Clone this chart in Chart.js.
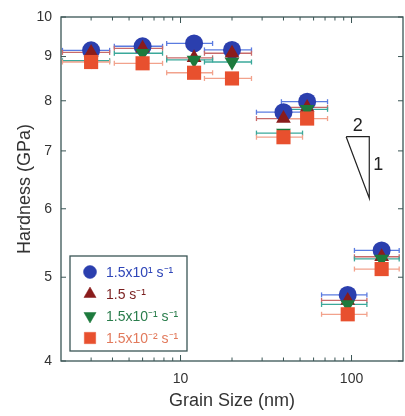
<!DOCTYPE html>
<html><head><meta charset="utf-8">
<script src="https://cdn.jsdelivr.net/npm/chart.js@4"></script>
<style>html,body{margin:0;padding:0;background:#fff;overflow:hidden}</style>
</head><body>
<canvas id="c" width="405" height="416" style="width:405px;height:416px;display:block"></canvas>
<script>
// ---- data ----
const grainSize = [3, 6, 12, 20, 40, 55, 95, 150];
const grainErrLow  = [2.04, 4.1, 8.3, 13.8, 27.8, 38.9, 66.8, 104];
const grainErrHigh = [3.85, 7.85, 15.4, 26.0, 51.7, 72.4, 123, 190];
const rateLabels = ['1.5x10\u00B9 s\u207B\u00B9', '1.5 s\u207B\u00B9', '1.5x10\u207B\u00B9 s\u207B\u00B9', '1.5x10\u207B\u00B2 s\u207B\u00B9'];
const hardnessRate1 = [9.15, 9.25, 9.32, 9.16, 7.76, 7.98, 4.77, 5.37];
const hardnessRate2 = [9.10, 9.20, 8.97, 9.08, 7.63, 7.86, 4.70, 5.28];
const hardnessRate3 = [8.90, 9.08, 8.92, 8.87, 7.34, 7.82, 4.65, 5.25];
const hardnessRate4 = [8.87, 8.84, 8.62, 8.49, 7.26, 7.63, 4.53, 5.11];
const yTickValues = [4, 5, 6, 7, 8, 9, 10];
const xLabelTicks = [10, 100];
const xMinorTicks = [2,3,4,5,6,7,8,9,20,30,40,50,60,70,80,90,200];
const slopeTriX = [93, 127, 127, 93];
const slopeTriY = [7.27, 7.27, 6.17, 7.27];
const slopeLabels = ['2', '1'];

const FONT = '"Liberation Sans", Arial, Helvetica, sans-serif';
const styles = [
  {color:'#2b3fae', err:'#5a7be0', text:'#2f46b8', style:'circle', r:9, rot:0, order:3},
  {color:'#8a1c1c', err:'#c86a6a', text:'#7a1f1f', style:'triangle', r:8.5, rot:0, order:2},
  {color:'#1d7a3d', err:'#3aa89a', text:'#2a7d4c', style:'triangle', r:8.5, rot:180, order:1},
  {color:'#e8502e', err:'#f2a28c', text:'#e27a5c', style:'rect', r:10, rot:0, order:0}
];
const seriesValues = [hardnessRate1, hardnessRate2, hardnessRate3, hardnessRate4];

const datasets = seriesValues.map((vals, k) => ({
  label: rateLabels[k],
  data: grainSize.map((g, i) => ({x: g, y: vals[i]})),
  showLine: false,
  pointStyle: styles[k].style,
  pointRotation: styles[k].rot,
  pointRadius: styles[k].r,
  pointHoverRadius: styles[k].r,
  backgroundColor: styles[k].color,
  borderColor: styles[k].color,
  borderWidth: 0,
  order: styles[k].order
}));

function line(ctx, x1, y1, x2, y2){ ctx.beginPath(); ctx.moveTo(x1,y1); ctx.lineTo(x2,y2); ctx.stroke(); }

const errorBars = {
  id: 'errorBars',
  beforeDatasetsDraw(chart){
    const {ctx, scales:{x, y}} = chart;
    ctx.save();
    ctx.lineWidth = 1.3;
    seriesValues.forEach((vals, k) => {
      ctx.strokeStyle = styles[k].err;
      vals.forEach((v, i) => {
        const py = y.getPixelForValue(v);
        const x1 = x.getPixelForValue(grainErrLow[i]);
        const x2 = x.getPixelForValue(grainErrHigh[i]);
        line(ctx, x1, py, x2, py);
        line(ctx, x1, py-2.5, x1, py+2.5);
        line(ctx, x2, py-2.5, x2, py+2.5);
      });
    });
    ctx.restore();
  }
};

const frameAndExtras = {
  id: 'frameAndExtras',
  afterDraw(chart){
    const {ctx, chartArea:a, scales:{x, y}} = chart;
    ctx.save();
    ctx.strokeStyle = '#3a5555';
    ctx.lineWidth = 1.3;
    ctx.strokeRect(a.left, a.top, a.right - a.left, a.bottom - a.top);
    ctx.lineWidth = 1;
    xLabelTicks.forEach(v => { const px = x.getPixelForValue(v); line(ctx, px, a.bottom, px, a.bottom-6); line(ctx, px, a.top, px, a.top+6); });
    xMinorTicks.forEach(v => { const px = x.getPixelForValue(v); if (px > a.left+1 && px < a.right-1){ line(ctx, px, a.bottom, px, a.bottom-3.5); line(ctx, px, a.top, px, a.top+3.5);} });
    yTickValues.forEach(v => { const py = y.getPixelForValue(v); line(ctx, a.left, py, a.left+5, py); line(ctx, a.right, py, a.right-5, py); });

    // slope triangle
    ctx.strokeStyle = '#222';
    ctx.lineWidth = 1.2;
    ctx.beginPath();
    slopeTriX.forEach((vx, i) => { const px = x.getPixelForValue(vx), py = y.getPixelForValue(slopeTriY[i]); if (i===0) ctx.moveTo(px,py); else ctx.lineTo(px,py); });
    ctx.stroke();
    ctx.fillStyle = '#222';
    ctx.font = '18px ' + FONT;
    ctx.textAlign = 'center'; ctx.textBaseline = 'middle';
    const topMidX = (x.getPixelForValue(slopeTriX[0]) + x.getPixelForValue(slopeTriX[1]))/2;
    ctx.fillText(slopeLabels[0], topMidX, y.getPixelForValue(slopeTriY[0]) - 11);
    const rightMidY = (y.getPixelForValue(slopeTriY[1]) + y.getPixelForValue(slopeTriY[2]))/2;
    ctx.fillText(slopeLabels[1], x.getPixelForValue(slopeTriX[1]) + 9, rightMidY - 2);

    // legend
    const bx = 70, by = 256, bw = 117, bh = 95;
    ctx.fillStyle = '#fff';
    ctx.fillRect(bx, by, bw, bh);
    ctx.strokeStyle = '#3a5555';
    ctx.lineWidth = 1.3;
    ctx.strokeRect(bx, by, bw, bh);
    ctx.font = '14px ' + FONT;
    ctx.textAlign = 'left'; ctx.textBaseline = 'middle';
    rateLabels.forEach((lab, k) => {
      const ry = by + 16 + k * 22;
      const s = styles[k];
      ctx.fillStyle = s.color; ctx.strokeStyle = s.color; ctx.lineWidth = 0.5;
      Chart.helpers.drawPoint(ctx, {pointStyle: s.style, rotation: s.rot, radius: s.style==='rect' ? 8 : (s.style==='circle'? 6.5 : 7), borderWidth: 0.5}, 90, ry);
      ctx.fillStyle = s.text;
      ctx.fillText(lab, 106, ry + 1);
    });
    ctx.restore();
  }
};

new Chart(document.getElementById('c'), {
  type: 'scatter',
  data: { datasets },
  options: {
    responsive: false,
    devicePixelRatio: 1,
    animation: false,
    events: [],
    layout: { autoPadding: false, padding: { top: 17, right: 2, left: 0, bottom: 0 } },
    plugins: { legend: { display: false }, tooltip: { enabled: false } },
    scales: {
      x: {
        type: 'logarithmic', min: 2, max: 200,
        grid: { display: false, drawTicks: false },
        border: { display: false },
        afterBuildTicks: s => { s.ticks = xLabelTicks.map(v => ({value: v})); },
        afterFit: s => { s.height = 55; s.paddingLeft = 0; s.paddingRight = 0; },
        ticks: { color: '#333', font: { size: 14, family: FONT }, padding: 10, maxRotation: 0, autoSkip: false, callback: v => String(v) },
        title: { display: true, text: 'Grain Size (nm)', color: '#333', font: { size: 18, family: FONT }, padding: { top: 4, bottom: 4 } }
      },
      y: {
        type: 'logarithmic', min: 4, max: 10,
        grid: { display: false, drawTicks: false },
        border: { display: false },
        afterBuildTicks: s => { s.ticks = yTickValues.map(v => ({value: v})); },
        afterFit: s => { s.width = 61; s.paddingTop = 0; s.paddingBottom = 0; },
        ticks: { color: '#333', font: { size: 14, family: FONT }, padding: 9, autoSkip: false, callback: v => String(v) },
        title: { display: true, text: 'Hardness (GPa)', color: '#333', font: { size: 18, family: FONT }, padding: { top: 14, bottom: 4 } }
      }
    }
  },
  plugins: [errorBars, frameAndExtras]
});
</script>
</body></html>
